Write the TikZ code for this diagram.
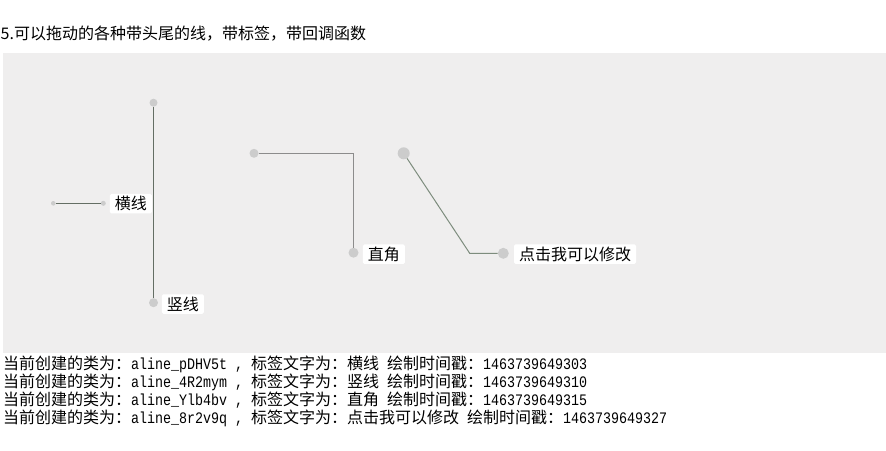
\documentclass[tikz,border=0pt]{standalone}
\usepackage{fontspec}
\newfontfamily\cjk{Noto Sans CJK SC}
\newfontfamily\mono{Liberation Mono}[FakeStretch=0.8333]
\definecolor{panel}{RGB}{239,238,238}
\definecolor{dotgray}{RGB}{204,204,204}
\definecolor{lineA}{RGB}{100,110,100}
\definecolor{lineB}{RGB}{140,140,140}
\definecolor{lineC}{RGB}{125,140,125}
\begin{document}
\begin{tikzpicture}[x=1pt,y=-1pt,
  pin/.style={circle,fill=dotgray,draw=none,inner sep=0pt,minimum size=#1},
  lbl/.style={fill=white,rounded corners=1.5pt,inner xsep=5pt,inner ysep=0pt,
    minimum height=19.5pt,text=black,font=\cjk\fontsize{16}{16}\selectfont},
  conn/.style={line width=1pt},
  logline/.style={anchor=base west,inner sep=0pt,text=black,font=\fontsize{16}{18}\selectfont},
  titletext/.style={anchor=base west,inner sep=0pt,text=black,font=\cjk\fontsize{16}{18}\selectfont}]
\useasboundingbox (0,0) rectangle (886,450);
\fill[white] (0,0) rectangle (886,450);
% panel
\fill[panel] (3,53) rectangle (886,353);
% title
\node[titletext] (title) at (0.5,39.5) {5.可以拖动的各种带头尾的线，带标签，带回调函数};
% horizontal line
\node[pin=4.6pt] (h1) at (53.3,203.3) {};
\node[pin=5pt] (h2) at (103.3,203.3) {};
\draw[conn,lineA] (h1) -- (h2);
\node[lbl] (hl) at (130.9,203.7) {横线};
% vertical line
\node[pin=8pt] (v1) at (153.5,102.7) {};
\node[pin=9pt] (v2) at (153.5,302.7) {};
\draw[conn,lineA] (v1) -- (v2);
\node[lbl] (vl) at (182.9,304) {竖线};
% right angle
\node[pin=9pt] (a1) at (254,153.3) {};
\node[pin=10pt] (a2) at (353.5,252.7) {};
\draw[conn,lineB] (a1) -| (a2);
\node[lbl] (al) at (383.9,254.2) {直角};
% diagonal
\node[pin=12pt] (d1) at (403.7,153.3) {};
\coordinate (dc) at (469.7,253.3);
\node[pin=11pt] (d2) at (503.3,253.3) {};
\draw[conn,lineC] (d1) -- (dc) -- (d2);
\node[lbl] (dl) at (575,254.2) {点击我可以修改};
% log lines
\node[logline] (log1) at (3,369) {{\cjk 当前创建的类为：}{\mono aline\_pDHV5t , }{\cjk 标签文字为：横线}{\mono\ }{\cjk 绘制时间戳：}{\mono 1463739649303}};
\node[logline] (log2) at (3,387.3) {{\cjk 当前创建的类为：}{\mono aline\_4R2mym , }{\cjk 标签文字为：竖线}{\mono\ }{\cjk 绘制时间戳：}{\mono 1463739649310}};
\node[logline] (log3) at (3,405.6) {{\cjk 当前创建的类为：}{\mono aline\_Ylb4bv , }{\cjk 标签文字为：直角}{\mono\ }{\cjk 绘制时间戳：}{\mono 1463739649315}};
\node[logline] (log4) at (3,423.9) {{\cjk 当前创建的类为：}{\mono aline\_8r2v9q , }{\cjk 标签文字为：点击我可以修改}{\mono\ }{\cjk 绘制时间戳：}{\mono 1463739649327}};
\end{tikzpicture}
\end{document}
